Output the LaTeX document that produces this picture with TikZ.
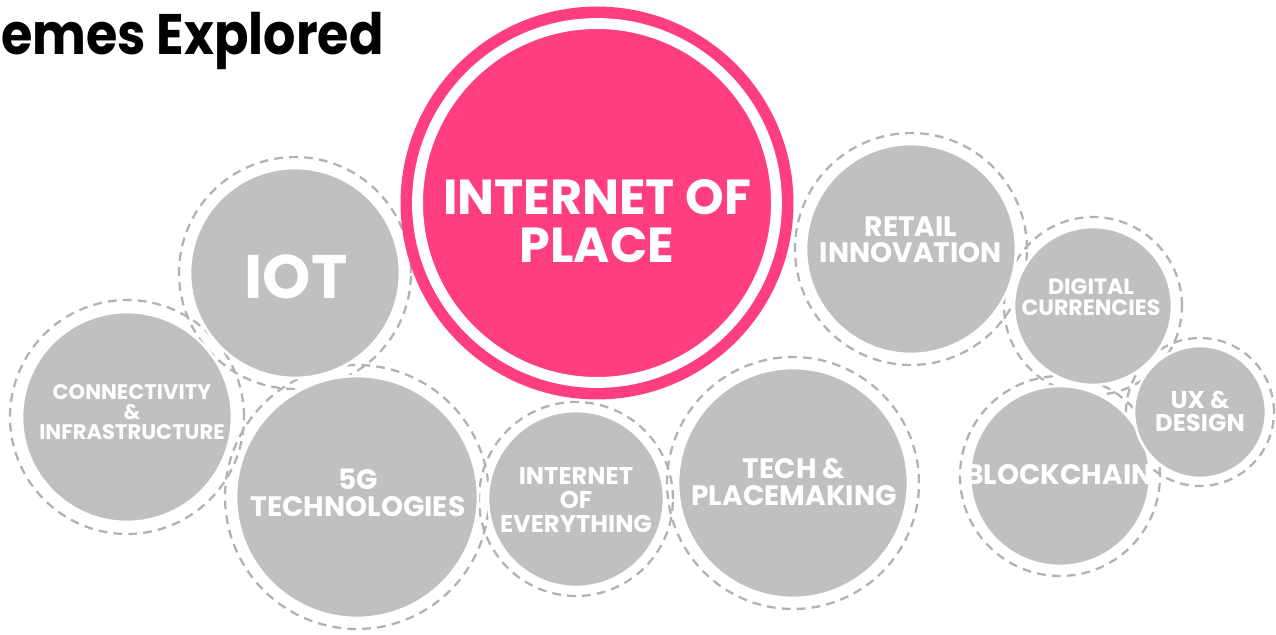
\documentclass[tikz,border=0pt]{standalone}
\usepackage{fontspec}
\setmainfont{Poppins}
\newfontfamily\headfont{Poppins}[FakeStretch=0.89]
\definecolor{placepink}{HTML}{FF3E7F}
\definecolor{bubblegray}{HTML}{C0C0C0}
\definecolor{dashgray}{HTML}{B2B2B2}
\newcommand\tagsize[2]{\bfseries\fontsize{#1}{#2}\selectfont}
\tikzset{
  ring/.style={circle, draw=dashgray, line width=1.3pt, dash pattern=on 5pt off 3.5pt, inner sep=0pt, outer sep=0pt},
  bubble/.style={circle, fill=bubblegray, draw=white, line width=1.5pt, inner sep=0pt, outer sep=0pt},
  tag/.style={text=white, align=center, inner sep=0pt},
}
\begin{document}
\begin{tikzpicture}[x=0.02cm, y=-0.02cm]
  \useasboundingbox (0,0) rectangle (1276,635);
  \node[anchor=base west, inner sep=0pt, font=\headfont\tagsize{32.5}{36}] (title) at (1,55) {emes Explored};
  \begin{scope}
    \node[ring, minimum size=4.64cm] (iot ring) at (295,273) {};
    \node[ring, minimum size=4.68cm] (conn ring) at (127,417) {};
    \node[ring, minimum size=5.28cm] (fiveg ring) at (357,497) {};
    \node[ring, minimum size=3.88cm] (ioe ring) at (576,499) {};
    \node[ring, minimum size=5.04cm] (tech ring) at (793,483) {};
    \node[ring, minimum size=4.64cm] (retail ring) at (911,249) {};
    \node[ring, minimum size=3.56cm] (digital ring) at (1093,306) {};
    \node[ring, minimum size=4.0cm] (chain ring) at (1060,476) {};
    \node[ring, minimum size=2.96cm] (ux ring) at (1200,412) {};
  \end{scope}
  \begin{scope}
    \node[bubble, minimum size=4.2cm] (iot) at (295,273) {};
    \node[bubble, minimum size=4.2cm] (conn) at (127,417) {};
    \node[bubble, minimum size=4.84cm] (fiveg) at (357,497) {};
    \node[bubble, minimum size=3.52cm] (ioe) at (576,499) {};
    \node[bubble, minimum size=4.6cm] (tech) at (793,483) {};
    \node[bubble, minimum size=4.2cm] (retail) at (911,249) {};
    \node[bubble, minimum size=3.16cm] (digital) at (1093,306) {};
    \node[bubble, minimum size=3.6cm] (chain) at (1060,476) {};
    \node[bubble, minimum size=2.64cm] (ux) at (1200,412) {};
  \end{scope}
  \node[circle, fill=placepink, inner sep=0pt, minimum size=7.86cm] (place) at (597,203) {};
  \node[circle, draw=white, line width=6.2pt, inner sep=0pt, minimum size=7.18cm] (place ring) at (597,203) {};
  \node[tag, font=\tagsize{28}{27.5}] (place text) at (597,221) {INTERNET OF\\PLACE};
  \node[tag, font=\tagsize{35}{35}] (iot text) at (296,277) {IOT};
  \node[tag, font=\tagsize{12}{11.6}] (conn text) at (132,412) {CONNECTIVITY\\\&\\INFRASTRUCTURE};
  \node[tag, font=\tagsize{16}{15.6}] (fiveg text) at (358,493) {5G\\TECHNOLOGIES};
  \node[tag, font=\tagsize{13.8}{13.8}] (ioe text) at (576,500) {INTERNET\\OF\\EVERYTHING};
  \node[tag, font=\tagsize{16}{15}] (tech text) at (794,482) {TECH \&\\PLACEMAKING};
  \node[tag, font=\tagsize{16}{15}] (retail text) at (911,240) {RETAIL\\INNOVATION};
  \node[tag, font=\tagsize{12.6}{12}] (digital text) at (1091,297) {DIGITAL\\CURRENCIES};
  \node[tag, font=\tagsize{16}{16}] (chain text) at (1059,475) {BLOCKCHAIN};
  \node[tag, font=\tagsize{13.8}{13}] (ux text) at (1200,411) {UX \&\\DESIGN};
\end{tikzpicture}
\end{document}
